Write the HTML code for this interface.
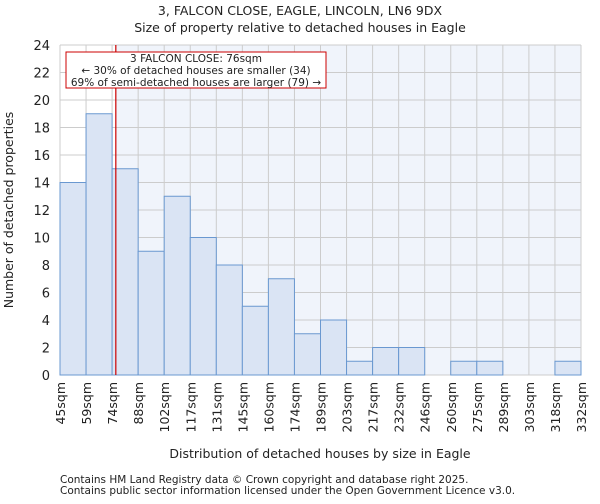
<!DOCTYPE html>
<html><head><meta charset="utf-8"><style>
body{margin:0;background:#fff;font-family:"DejaVu Sans","Liberation Sans",sans-serif;}
svg text{font-family:"DejaVu Sans","Liberation Sans",sans-serif;fill:#222;}
</style></head><body>
<svg id="chart" width="600" height="500" xmlns="http://www.w3.org/2000/svg">
<text x="300" y="15" font-size="12.5" text-anchor="middle">3, FALCON CLOSE, EAGLE, LINCOLN, LN6 9DX</text>
<text x="300" y="32" font-size="12.5" text-anchor="middle">Size of property relative to detached houses in Eagle</text>
<g id="plot"></g>
<text x="320" y="458" font-size="12.5" text-anchor="middle">Distribution of detached houses by size in Eagle</text>
<text transform="translate(13,210) rotate(-90)" font-size="12.5" text-anchor="middle">Number of detached properties</text>
<text x="60" y="483" font-size="10.5" fill="#444">Contains HM Land Registry data © Crown copyright and database right 2025.</text>
<text x="60" y="494" font-size="10.5" fill="#444">Contains public sector information licensed under the Open Government Licence v3.0.</text>
</svg>
<script>
const tickLabels=["45sqm","59sqm","74sqm","88sqm","102sqm","117sqm","131sqm","145sqm","160sqm","174sqm","189sqm","203sqm","217sqm","232sqm","246sqm","260sqm","275sqm","289sqm","303sqm","318sqm","332sqm"];
const binEdges=[45,59,74,88,102,117,131,145,160,174,189,203,217,232,246,260,275,289,303,318,332];
const counts=[14,19,15,9,13,10,8,5,7,3,4,1,2,2,0,1,1,0,0,1];
const yTicks=[0,2,4,6,8,10,12,14,16,18,20,22,24];
const subjectSize=76;
const X0=60,X1=581,Y0=375,Y1=45,yMax=24;
const n=counts.length;
const bw=(X1-X0)/n;
const xi=i=>X0+i*bw;
const y=v=>Y0-(v/yMax)*(Y0-Y1);
function xv(v){for(let i=0;i<binEdges.length-1;i++){if(v<=binEdges[i+1])return xi(i)+(v-binEdges[i])/(binEdges[i+1]-binEdges[i])*bw;}return X1;}
const NS="http://www.w3.org/2000/svg";
const g=document.getElementById('plot');
function mk(t,a){const e=document.createElementNS(NS,t);for(const k in a)e.setAttribute(k,a[k]);g.appendChild(e);return e;}
const rx=xv(subjectSize);
let wbg=mk('rect',{x:X0,y:Y1,width:X1-X0,height:Y0-Y1,fill:'#ffffff'});


let bg=mk('rect',{x:rx,y:Y1,width:X1-rx,height:Y0-Y1,fill:'#f0f4fb'});


for(let i=0;i<=n;i++){let l=mk('line',{x1:xi(i),x2:xi(i),y1:Y1,y2:Y0,stroke:'#cccccc','stroke-width':1});

}
yTicks.forEach(t=>{let l=mk('line',{x1:X0,x2:X1,y1:y(t),y2:y(t),stroke:'#cccccc','stroke-width':1});


let tx=mk('text',{x:X0-10,y:y(t)+5,'font-size':13,'text-anchor':'end'});tx.textContent=t;

});
counts.forEach((c,i)=>{if(c<=0)return;let r=mk('rect',{x:xi(i),y:y(c),width:bw,height:Y0-y(c),fill:'#dae4f4',stroke:'#6a98d0','stroke-width':1});

});
tickLabels.forEach((t,i)=>{let tx=mk('text',{x:0,y:0,'font-size':12.5,'text-anchor':'end',transform:`translate(${xi(i)+5},382) rotate(-90)`});tx.textContent=t;

});
let ml=mk('line',{x1:rx,x2:rx,y1:Y1,y2:Y0,stroke:'#cc0000','stroke-width':1.2});


let box=mk('rect',{x:66,y:52,width:260,height:36,fill:'#fff',stroke:'#cc0000','stroke-width':1});


["3 FALCON CLOSE: 76sqm","← 30% of detached houses are smaller (34)","69% of semi-detached houses are larger (79) →"].forEach((s,k)=>{let tx=mk('text',{x:196,y:62+k*12,'font-size':10.5,'text-anchor':'middle'});tx.textContent=s;

});
</script>
</body></html>
